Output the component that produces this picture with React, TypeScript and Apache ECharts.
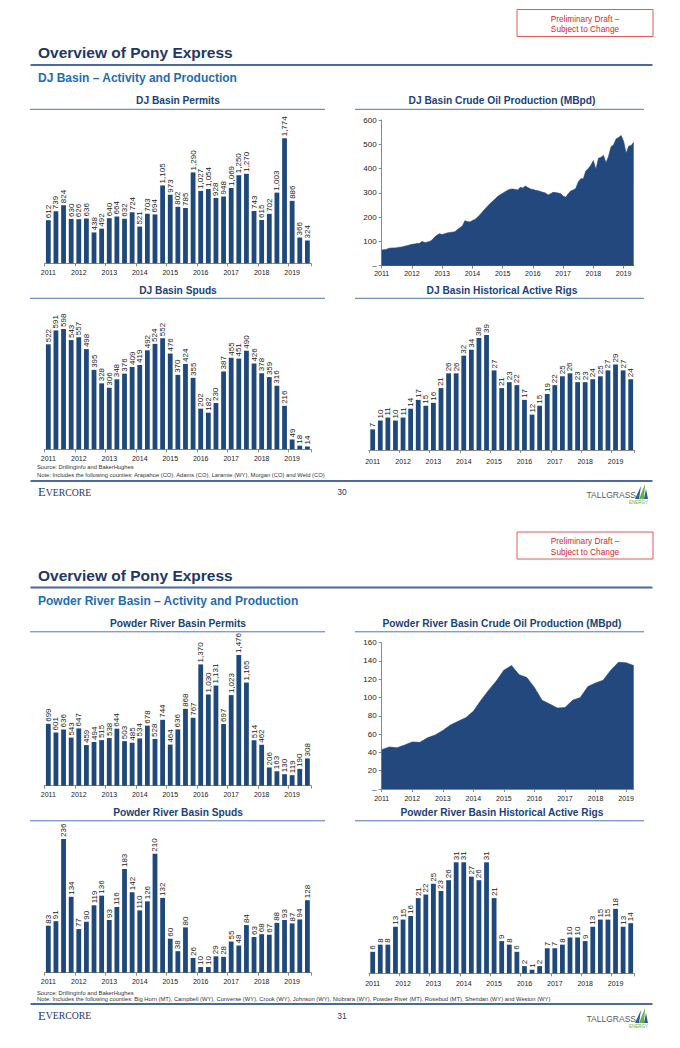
import React, { useEffect, useRef } from "react";
import * as echarts from "echarts";

// ---------- data ----------
const YEARS = ["2011", "2012", "2013", "2014", "2015", "2016", "2017", "2018", "2019"];

const DJ_PERMITS = [612, 739, 824, 630, 626, 636, 438, 492, 640, 664, 632, 724, 521, 703, 694, 1105, 973, 802, 785, 1290, 1027, 1054, 928, 948, 1069, 1250, 1270, 743, 615, 702, 1003, 1774, 886, 366, 324];
const DJ_SPUDS = [522, 591, 598, 543, 557, 498, 395, 328, 306, 348, 376, 409, 419, 492, 524, 552, 476, 370, 424, 355, 202, 182, 230, 387, 455, 451, 490, 426, 378, 359, 316, 216, 49, 18, 14];
const DJ_RIGS = [7, 10, 11, 10, 11, 14, 17, 15, 16, 21, 26, 26, 32, 34, 38, 39, 27, 21, 23, 22, 17, 12, 15, 19, 22, 25, 26, 23, 23, 24, 25, 27, 29, 27, 24];
const DJ_OIL = [
  65, 66, 68, 72, 73, 73, 74, 76, 77, 80, 82, 85,
  88, 89, 91, 92, 100, 96, 97, 100, 106, 118, 126, 132,
  128, 132, 135, 137, 138, 140, 148, 156, 163, 185, 182, 180,
  186, 190, 200, 210, 222, 234, 245, 256, 265, 275, 285, 292,
  298, 305, 311, 315, 316, 314, 312, 323, 320, 328, 322, 316,
  314, 311, 309, 306, 302, 299, 291, 296, 302, 301, 299, 297,
  287, 282, 296, 308, 312, 318, 345, 358, 358, 390, 400, 414,
  433, 396, 442, 446, 455, 424, 450, 490, 497, 522, 528, 536,
  512, 463, 492, 495, 508,
];

const PRB_PERMITS = [699, 601, 636, 543, 647, 459, 494, 515, 538, 644, 503, 485, 534, 678, 528, 744, 464, 636, 868, 767, 1370, 1030, 1131, 697, 1023, 1476, 1165, 514, 462, 206, 163, 130, 119, 190, 308];
const PRB_SPUDS = [83, 91, 236, 134, 77, 90, 119, 136, 93, 116, 183, 142, 110, 126, 210, 132, 60, 38, 80, 26, 10, 10, 29, 28, 55, 48, 84, 63, 68, 67, 88, 93, 87, 94, 128];
const PRB_RIGS = [6, 8, 8, 13, 15, 16, 21, 22, 25, 23, 26, 31, 31, 27, 26, 31, 21, 9, 8, 6, 2, 1, 2, 7, 7, 8, 10, 10, 9, 13, 15, 15, 18, 13, 14];
const PRB_OIL = [43, 46, 45, 48, 51.5, 51, 56, 59, 64, 70, 74, 78, 85, 97, 108, 118, 130, 135, 125, 122, 111, 97, 93, 88.5, 89, 97, 100, 112, 116, 119, 130, 138.5, 138, 135];

const DJ_OIL_TICKS = [0, 100, 200, 300, 400, 500, 600];
const PRB_OIL_TICKS = [0, 20, 40, 60, 80, 100, 120, 140, 160];

const QUARTERS: string[] = [];
YEARS.forEach((y) => ["Q1", "Q2", "Q3", "Q4"].forEach((q) => QUARTERS.push(`${y} ${q}`)));
const MONTHS: string[] = [];
YEARS.forEach((y) => ["01", "02", "03", "04", "05", "06", "07", "08", "09", "10", "11", "12"].forEach((m) => MONTHS.push(`${y}-${m}`)));

// ---------- styles ----------
const FONT = "'Liberation Sans', Arial, Helvetica, sans-serif";
const SERIF = "'Liberation Serif', 'Times New Roman', serif";
const BAR_COLOR = "#1f497d";
const AREA_COLOR = "#22487e";
const AXIS_COLOR = "#8a8a8a";
const NAVY = "#1f3864";
const TITLE_BLUE = "#213f7a";
const SUB_BLUE = "#1f6db3";

const comma = (n: number) => String(n).replace(/\B(?=(\d{3})+(?!\d))/g, ",");

type BarSpec = { data: number[]; grid: any; max: number; margin: number; fmt: (n: number) => string };

const BAR_CHARTS: BarSpec[] = [
  { data: DJ_PERMITS, grid: { left: 44.5, top: 138.3, width: 266.7, height: 125 }, max: 1774, margin: 5.5, fmt: comma },
  { data: DJ_SPUDS, grid: { left: 44.5, top: 329, width: 266.7, height: 120.3 }, max: 598, margin: 5.5, fmt: comma },
  { data: DJ_RIGS, grid: { left: 368.9, top: 335, width: 265.6, height: 115 }, max: 39, margin: 7.5, fmt: comma },
  { data: PRB_PERMITS, grid: { left: 44.5, top: 655, width: 266.7, height: 130.7 }, max: 1476, margin: 5.5, fmt: comma },
  { data: PRB_SPUDS, grid: { left: 44.5, top: 839, width: 266.7, height: 133.7 }, max: 236, margin: 5, fmt: comma },
  { data: PRB_RIGS, grid: { left: 368.9, top: 862.3, width: 265.6, height: 111 }, max: 31, margin: 6.5, fmt: comma },
];

type AreaSpec = { data: number[]; cats: string[]; grid: any; ticks: number[]; labelEvery: number; margin: number };
const AREA_CHARTS: AreaSpec[] = [
  { data: DJ_OIL, cats: MONTHS.slice(0, DJ_OIL.length), grid: { left: 381.7, top: 120, width: 252, height: 145.7 }, ticks: DJ_OIL_TICKS, labelEvery: 12, margin: 4.5 },
  { data: PRB_OIL, cats: QUARTERS.slice(0, PRB_OIL.length), grid: { left: 381.7, top: 642.7, width: 252, height: 146.3 }, ticks: PRB_OIL_TICKS, labelEvery: 4, margin: 6 },
];

const PAGES = [
  {
    off: 0,
    subtitle: "DJ Basin – Activity and Production",
    titles: ["DJ Basin Permits", "DJ Basin Crude Oil Production (MBpd)", "DJ Basin Spuds", "DJ Basin Historical Active Rigs"],
    source: "Source: Drillinginfo and BakerHughes",
    note: "Note: Includes the following counties: Arapahoe (CO), Adams (CO), Laramie (WY), Morgan (CO) and Weld (CO)",
    srcY: 467, noteY: 474.5, footY: 481, evY: 492, logoY: 495, page: "30",
  },
  {
    off: 522.5,
    subtitle: "Powder River Basin – Activity and Production",
    titles: ["Powder River Basin Permits", "Powder River Basin Crude Oil Production (MBpd)", "Powder River Basin Spuds", "Powder River Basin Historical Active Rigs"],
    source: "Source: Drillinginfo and BakerHughes",
    note: "Note: Includes the following counties: Big Horn (MT), Campbell (WY), Converse (WY), Crook (WY), Johnson (WY), Niobrara (WY), Powder River (MT), Rosebud (MT), Sheridan (WY) and Weston (WY)",
    srcY: 992.5, noteY: 999, footY: 1004, evY: 1015.5, logoY: 1019, page: "31",
  },
];

function txt(x: number, y: number, text: string, size: number, color: string, opts: any = {}) {
  const align = opts.align || "left";
  return {
    type: "text",
    x,
    y,
    silent: true,
    style: {
      text,
      fill: color,
      fontSize: size,
      fontFamily: opts.family || FONT,
      fontWeight: opts.weight || "normal",
      align,
      verticalAlign: "middle",
      textAlign: align,
      textVerticalAlign: "middle",
      rich: opts.rich,
    },
  };
}
function hline(x1: number, x2: number, y: number, color: string, w: number) {
  return { type: "line", silent: true, shape: { x1, y1: y, x2, y2: y }, style: { stroke: color, lineWidth: w } };
}

function buildGraphics() {
  const els: any[] = [];
  PAGES.forEach((p) => {
    const o = p.off;
    els.push({ type: "rect", silent: true, shape: { x: 517, y: 9.5 + o, width: 136, height: 27 }, style: { fill: "#ffffff", stroke: "#e05a5a", lineWidth: 1 } });
    els.push(txt(585, 18.5 + o, "Preliminary Draft –", 8.3, "#d7262e", { align: "center" }));
    els.push(txt(585, 29 + o, "Subject to Change", 8.3, "#d7262e", { align: "center" }));
    els.push(txt(38, 52.7 + o, "Overview of Pony Express", 15.5, NAVY, { weight: "bold" }));
    els.push(hline(30.5, 652.5, 65 + o, "#4d6a9a", 2));
    els.push(txt(38, 78.3 + o, p.subtitle, 12, SUB_BLUE, { weight: "bold" }));
    // chart titles
    els.push(txt(178, 100.7 + o, p.titles[0], 10.2, TITLE_BLUE, { weight: "bold", align: "center" }));
    els.push(txt(502, 100.7 + o, p.titles[1], 10.2, TITLE_BLUE, { weight: "bold", align: "center" }));
    els.push(txt(178, 290 + o, p.titles[2], 10.2, TITLE_BLUE, { weight: "bold", align: "center" }));
    els.push(txt(502, 290 + o, p.titles[3], 10.2, TITLE_BLUE, { weight: "bold", align: "center" }));
    els.push(hline(30, 325, 109.3 + o, "#4f76b5", 1));
    els.push(hline(355, 644, 109.3 + o, "#4f76b5", 1));
    els.push(hline(30, 325, 298.3 + o, "#4f76b5", 1));
    els.push(hline(355, 644, 298.3 + o, "#4f76b5", 1));
    // source / note
    els.push(txt(37, p.srcY, p.source, 5.8, "#333333"));
    els.push(txt(37, p.noteY, p.note, 5.8, "#333333"));
    // footer
    els.push(hline(30.5, 652.5, p.footY, "#4d6a9a", 2));
    els.push(
      txt(38, p.evY, "{a|E}{b|VERCORE}", 10, NAVY, {
        family: SERIF,
        rich: {
          a: { fontSize: 12.5, fontFamily: SERIF, fill: NAVY, color: NAVY },
          b: { fontSize: 9.8, fontFamily: SERIF, fill: NAVY, color: NAVY },
        },
      })
    );
    els.push(txt(342, p.evY, p.page, 8.5, NAVY, { align: "center" }));
    // tallgrass logo
    const ly = p.logoY;
    els.push(txt(636, ly, "TALLGRASS", 8.5, "#5a5a5a", { align: "right" }));
    els.push({ type: "polygon", silent: true, shape: { points: [[635, ly + 4], [641, ly - 9], [639, ly + 4]] }, style: { fill: "#2d5aa3" } });
    els.push({ type: "polygon", silent: true, shape: { points: [[639, ly + 4], [645, ly - 11], [644, ly + 4]] }, style: { fill: "#6bb044" } });
    els.push({ type: "polygon", silent: true, shape: { points: [[644, ly + 4], [646, ly - 6], [648, ly + 4]] }, style: { fill: "#2d5aa3" } });
    els.push(txt(648, ly + 7, "ENERGY", 4.5, "#6bb044", { align: "right" }));
  });
  return els;
}

function buildOption() {
  const grid: any[] = [];
  const xAxis: any[] = [];
  const yAxis: any[] = [];
  const series: any[] = [];

  BAR_CHARTS.forEach((b) => {
    const i = grid.length;
    grid.push({ ...b.grid, containLabel: false });
    xAxis.push({
      type: "category",
      gridIndex: i,
      data: QUARTERS.slice(0, b.data.length),
      axisLine: { show: true, lineStyle: { color: AXIS_COLOR, width: 1 } },
      axisTick: { show: true, interval: 3, length: 3, lineStyle: { color: AXIS_COLOR } },
      axisLabel: { interval: 3, formatter: (v: string) => v.slice(0, 4), fontSize: 7, color: "#222", fontFamily: FONT, margin: b.margin },
      splitLine: { show: false },
    });
    yAxis.push({ type: "value", gridIndex: i, min: 0, max: b.max, show: false, splitLine: { show: false } });
    series.push({
      type: "bar",
      xAxisIndex: i,
      yAxisIndex: i,
      data: b.data,
      barWidth: "63%",
      itemStyle: { color: BAR_COLOR },
      label: {
        show: true,
        position: "top",
        rotate: 90,
        align: "left",
        verticalAlign: "middle",
        distance: 2,
        fontSize: 8,
        color: "#222",
        fontFamily: FONT,
        formatter: (p: any) => b.fmt(p.value),
      },
    });
  });

  AREA_CHARTS.forEach((a) => {
    const i = grid.length;
    grid.push({ ...a.grid, containLabel: false });
    xAxis.push({
      type: "category",
      gridIndex: i,
      boundaryGap: false,
      data: a.cats,
      axisLine: { show: true, lineStyle: { color: AXIS_COLOR, width: 1 } },
      axisTick: { show: true, interval: a.labelEvery - 1, length: 3, lineStyle: { color: AXIS_COLOR } },
      axisLabel: { interval: a.labelEvery - 1, formatter: (v: string) => v.slice(0, 4), fontSize: 7, color: "#222", fontFamily: FONT, margin: a.margin },
      splitLine: { show: false },
    });
    const t = a.ticks;
    yAxis.push({
      type: "value",
      gridIndex: i,
      min: t[0],
      max: t[t.length - 1],
      interval: t[1] - t[0],
      axisLine: { show: true, lineStyle: { color: AXIS_COLOR, width: 1 } },
      axisTick: { show: true, length: 3, lineStyle: { color: AXIS_COLOR } },
      axisLabel: { formatter: (v: number) => (v === 0 ? "–" : String(v)), fontSize: 8, color: "#222", fontFamily: FONT, margin: 5 },
      splitLine: { show: false },
    });
    series.push({
      type: "line",
      xAxisIndex: i,
      yAxisIndex: i,
      data: a.data,
      symbol: "none",
      lineStyle: { width: 0.6, color: AREA_COLOR },
      areaStyle: { color: AREA_COLOR, opacity: 1 },
    });
  });

  return {
    animation: false,
    backgroundColor: "#ffffff",
    grid,
    xAxis,
    yAxis,
    series,
    graphic: { elements: buildGraphics() },
  };
}

export default function App() {
  const ref = useRef<HTMLDivElement>(null);
  useEffect(() => {
    document.body.style.margin = "0";
    const chart = echarts.init(ref.current as HTMLDivElement, null, { renderer: "svg" });
    chart.setOption(buildOption() as any);
    return () => chart.dispose();
  }, []);
  return <div ref={ref} style={{ width: 680, height: 1048 }} />;
}
